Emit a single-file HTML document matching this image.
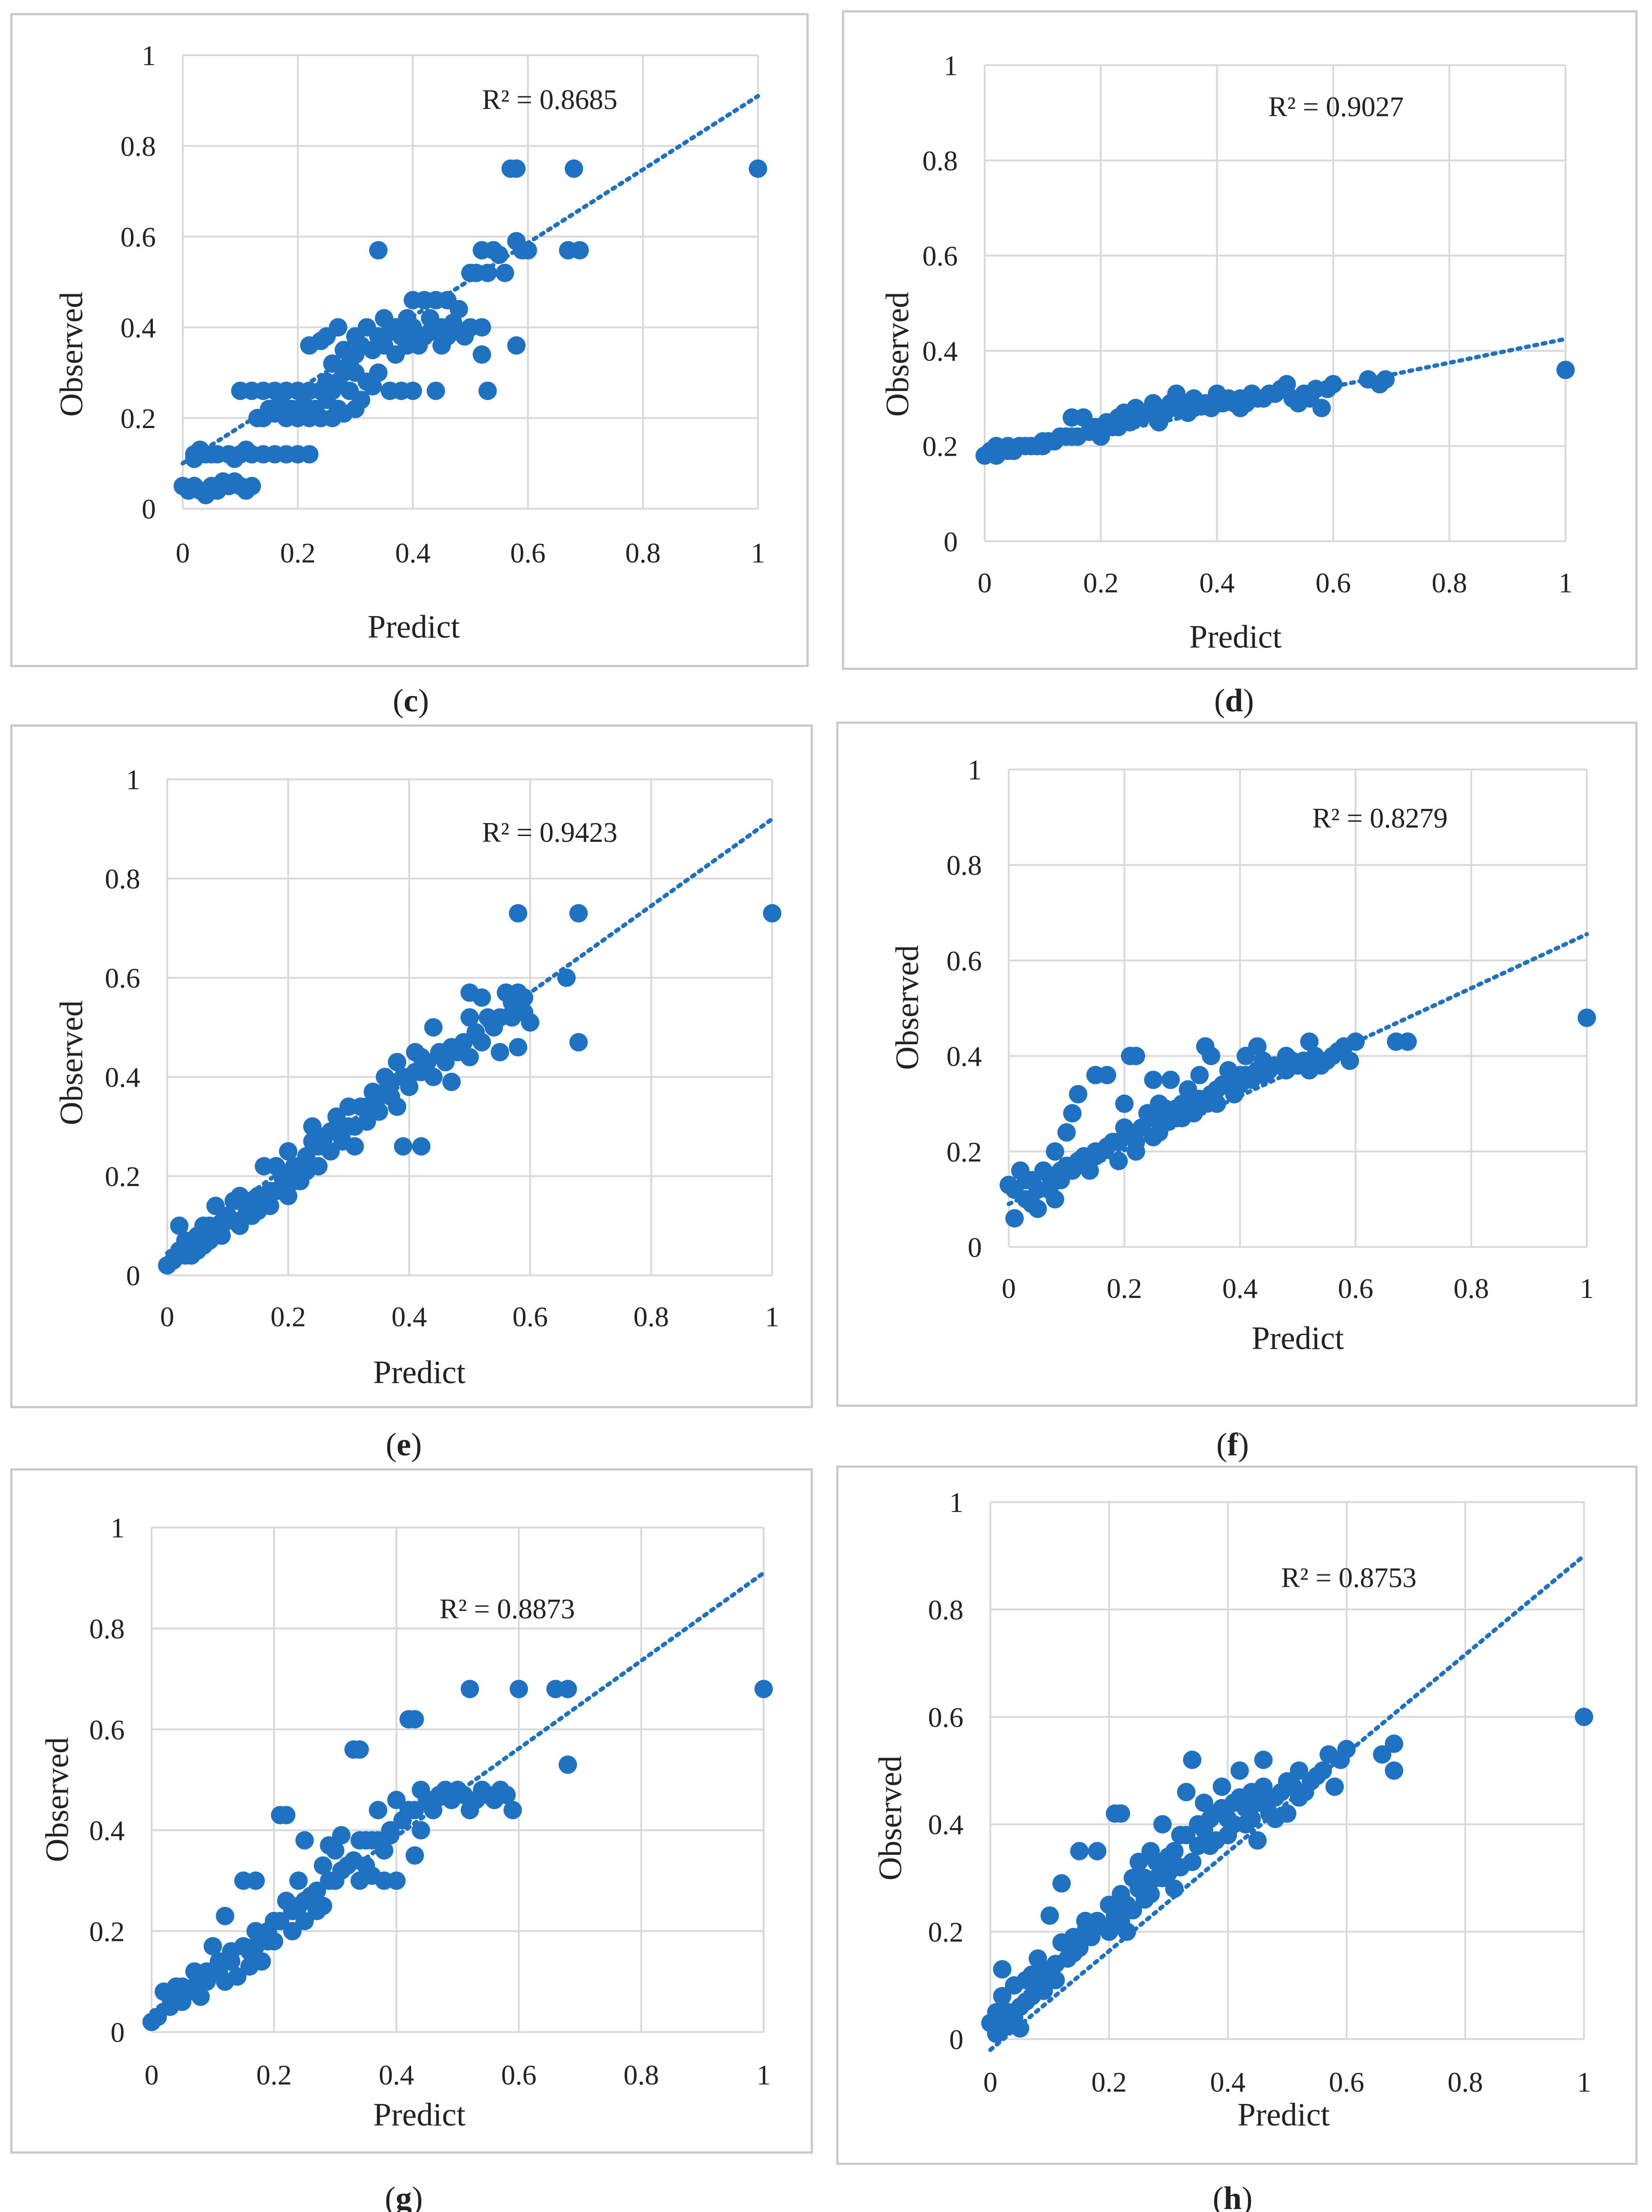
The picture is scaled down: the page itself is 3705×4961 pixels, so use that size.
<!DOCTYPE html>
<html>
<head>
<meta charset="utf-8">
<style>
html,body{margin:0;padding:0;background:#fff;}
svg{display:block;}
text{font-family:"Liberation Serif",serif;fill:#222;}
</style>
</head>
<body>
<svg id="fig" width="3705" height="4961" viewBox="0 0 1166 1561" preserveAspectRatio="none" xmlns="http://www.w3.org/2000/svg">
<rect x="0" y="0" width="1166" height="1561" fill="#fff"/>
</svg>
<script>
const ticks = [0, 0.2, 0.4, 0.6, 0.8, 1];
const tickLabels = ["0", "0.2", "0.4", "0.6", "0.8", "1"];

const ptsC = [[0,0.05],[0.02,0.05],[0.03,0.04],[0.04,0.03],[0.05,0.05],[0.06,0.04],[0.08,0.05],[0.1,0.05],[0.12,0.05],[0.07,0.06],[0.02,0.12],[0.02,0.11],[0.04,0.12],[0.06,0.12],[0.08,0.12],[0.1,0.12],[0.12,0.12],[0.14,0.12],[0.16,0.12],[0.18,0.12],[0.2,0.12],[0.22,0.12],[0.1,0.26],[0.12,0.26],[0.14,0.26],[0.16,0.26],[0.18,0.26],[0.2,0.26],[0.22,0.26],[0.24,0.26],[0.14,0.2],[0.16,0.21],[0.18,0.2],[0.2,0.2],[0.22,0.2],[0.24,0.2],[0.26,0.2],[0.28,0.21],[0.3,0.22],[0.22,0.36],[0.24,0.37],[0.25,0.38],[0.27,0.4],[0.28,0.35],[0.3,0.38],[0.32,0.4],[0.34,0.38],[0.35,0.42],[0.36,0.39],[0.38,0.38],[0.4,0.4],[0.42,0.38],[0.44,0.4],[0.46,0.38],[0.48,0.39],[0.5,0.4],[0.52,0.34],[0.34,0.57],[0.28,0.3],[0.3,0.3],[0.32,0.28],[0.34,0.3],[0.26,0.26],[0.36,0.26],[0.38,0.26],[0.4,0.26],[0.44,0.26],[0.53,0.26],[0.4,0.46],[0.42,0.46],[0.44,0.46],[0.46,0.46],[0.48,0.44],[0.5,0.52],[0.52,0.57],[0.53,0.52],[0.55,0.56],[0.56,0.52],[0.58,0.59],[0.59,0.57],[0.6,0.57],[0.57,0.75],[0.58,0.75],[0.68,0.75],[0.67,0.57],[0.69,0.57],[1.0,0.75],[0.58,0.36],[0.52,0.4],[0.3,0.34],[0.26,0.32],
[0.23,0.22],[0.25,0.24],[0.27,0.28],[0.29,0.32],[0.31,0.36],[0.33,0.35],[0.35,0.36],[0.37,0.4],[0.39,0.36],[0.41,0.38],[0.43,0.39],[0.45,0.4],[0.47,0.41],[0.49,0.38],[0.29,0.26],[0.31,0.24],[0.33,0.27],[0.27,0.22],[0.25,0.28],[0.21,0.23],[0.19,0.22],[0.17,0.24],[0.15,0.22],[0.13,0.2],[0.11,0.13],[0.09,0.11],[0.05,0.12],[0.03,0.13],[0.01,0.04],[0.09,0.06],[0.11,0.04],[0.37,0.34],[0.39,0.42],[0.41,0.36],[0.43,0.42],[0.45,0.36],[0.51,0.52],[0.54,0.57]];
const ptsD = [[0,0.18],[0.01,0.19],[0.02,0.2],[0.03,0.19],[0.04,0.2],[0.05,0.19],[0.06,0.2],[0.08,0.2],[0.1,0.21],[0.12,0.21],[0.14,0.22],[0.15,0.26],[0.16,0.22],[0.17,0.26],[0.18,0.23],[0.2,0.24],[0.22,0.24],[0.23,0.26],[0.25,0.25],[0.26,0.28],[0.27,0.26],[0.28,0.27],[0.29,0.29],[0.3,0.27],[0.31,0.28],[0.32,0.29],[0.33,0.31],[0.34,0.28],[0.35,0.29],[0.36,0.28],[0.38,0.29],[0.4,0.29],[0.42,0.3],[0.44,0.3],[0.46,0.31],[0.48,0.3],[0.5,0.31],[0.51,0.32],[0.52,0.33],[0.53,0.3],[0.54,0.29],[0.55,0.31],[0.57,0.32],[0.58,0.28],[0.6,0.33],[0.66,0.34],[0.68,0.33],[0.69,0.34],[1.0,0.36],[0.3,0.25],[0.36,0.3],[0.24,0.27],[0.4,0.31],[0.44,0.28],[0.2,0.22],[0.1,0.2],
[0.07,0.2],[0.09,0.2],[0.11,0.21],[0.13,0.22],[0.15,0.22],[0.19,0.24],[0.21,0.25],[0.23,0.24],[0.25,0.26],[0.27,0.27],[0.29,0.27],[0.31,0.27],[0.33,0.28],[0.35,0.27],[0.37,0.29],[0.39,0.28],[0.41,0.29],[0.43,0.29],[0.45,0.29],[0.47,0.3],[0.49,0.31],[0.56,0.3],[0.59,0.32],[0.02,0.18],[0.04,0.19]];
const ptsE = [[0,0.02],[0.01,0.03],[0.02,0.05],[0.02,0.1],[0.03,0.07],[0.04,0.04],[0.05,0.08],[0.06,0.06],[0.07,0.1],[0.08,0.14],[0.09,0.08],[0.1,0.12],[0.11,0.15],[0.12,0.1],[0.13,0.14],[0.14,0.12],[0.15,0.16],[0.16,0.22],[0.17,0.14],[0.18,0.17],[0.19,0.2],[0.2,0.16],[0.2,0.25],[0.21,0.22],[0.22,0.19],[0.23,0.24],[0.24,0.3],[0.25,0.22],[0.26,0.28],[0.27,0.25],[0.28,0.32],[0.29,0.27],[0.3,0.3],[0.31,0.26],[0.32,0.34],[0.33,0.31],[0.34,0.37],[0.35,0.33],[0.36,0.4],[0.37,0.36],[0.38,0.43],[0.38,0.34],[0.39,0.26],[0.42,0.26],[0.4,0.38],[0.41,0.45],[0.42,0.41],[0.44,0.5],[0.44,0.4],[0.46,0.43],[0.47,0.39],[0.48,0.45],[0.5,0.52],[0.5,0.44],[0.52,0.56],[0.52,0.47],[0.54,0.5],[0.55,0.45],[0.56,0.57],[0.57,0.52],[0.58,0.46],[0.59,0.53],[0.6,0.51],[0.58,0.73],[0.68,0.73],[0.66,0.6],[0.68,0.47],[1.0,0.73],[0.5,0.57],[0.58,0.57],
[0.03,0.04],[0.05,0.05],[0.07,0.07],[0.09,0.1],[0.11,0.11],[0.13,0.12],[0.15,0.13],[0.17,0.17],[0.19,0.18],[0.21,0.19],[0.23,0.21],[0.25,0.26],[0.27,0.29],[0.29,0.3],[0.31,0.3],[0.33,0.34],[0.35,0.36],[0.37,0.39],[0.39,0.4],[0.41,0.41],[0.43,0.43],[0.45,0.45],[0.47,0.46],[0.49,0.47],[0.51,0.49],[0.53,0.52],[0.55,0.52],[0.57,0.55],[0.59,0.56],[0.06,0.1],[0.12,0.16],[0.18,0.22],[0.24,0.27],[0.3,0.34],[0.36,0.37],[0.42,0.44]];
const ptsF = [[0,0.13],[0.01,0.06],[0.01,0.12],[0.02,0.16],[0.03,0.1],[0.04,0.14],[0.05,0.08],[0.06,0.16],[0.07,0.12],[0.08,0.2],[0.09,0.14],[0.1,0.17],[0.1,0.24],[0.11,0.28],[0.12,0.32],[0.12,0.18],[0.14,0.16],[0.15,0.36],[0.16,0.2],[0.17,0.36],[0.18,0.22],[0.19,0.18],[0.2,0.25],[0.21,0.4],[0.22,0.4],[0.22,0.22],[0.24,0.28],[0.25,0.23],[0.26,0.3],[0.27,0.26],[0.28,0.35],[0.29,0.27],[0.3,0.3],[0.31,0.33],[0.32,0.28],[0.33,0.36],[0.34,0.3],[0.34,0.42],[0.35,0.4],[0.36,0.33],[0.38,0.37],[0.39,0.32],[0.4,0.36],[0.41,0.4],[0.42,0.35],[0.43,0.42],[0.44,0.36],[0.46,0.38],[0.48,0.37],[0.5,0.38],[0.52,0.43],[0.52,0.37],[0.54,0.38],[0.56,0.4],[0.58,0.42],[0.59,0.39],[0.6,0.43],[0.67,0.43],[0.69,0.43],[1.0,0.48],[0.25,0.35],[0.2,0.3],[0.15,0.2],
[0.03,0.14],[0.05,0.12],[0.07,0.15],[0.09,0.16],[0.11,0.16],[0.13,0.19],[0.15,0.19],[0.17,0.21],[0.19,0.22],[0.21,0.24],[0.23,0.25],[0.25,0.27],[0.27,0.29],[0.29,0.29],[0.31,0.3],[0.33,0.31],[0.35,0.32],[0.37,0.34],[0.39,0.35],[0.41,0.36],[0.43,0.37],[0.45,0.37],[0.47,0.38],[0.49,0.39],[0.51,0.39],[0.53,0.4],[0.55,0.39],[0.57,0.41],[0.22,0.2],[0.26,0.24],[0.3,0.27],[0.36,0.3],[0.4,0.34],[0.44,0.39],[0.48,0.4],[0.08,0.1],[0.04,0.09]];
const ptsG = [[0,0.02],[0.01,0.03],[0.02,0.08],[0.03,0.05],[0.04,0.09],[0.05,0.06],[0.06,0.08],[0.07,0.12],[0.08,0.07],[0.09,0.1],[0.1,0.17],[0.11,0.12],[0.12,0.23],[0.13,0.14],[0.14,0.11],[0.15,0.3],[0.16,0.16],[0.17,0.2],[0.17,0.3],[0.18,0.14],[0.19,0.2],[0.2,0.18],[0.21,0.43],[0.22,0.43],[0.22,0.26],[0.23,0.2],[0.24,0.3],[0.25,0.38],[0.25,0.22],[0.26,0.27],[0.27,0.24],[0.28,0.33],[0.29,0.37],[0.3,0.3],[0.31,0.39],[0.32,0.33],[0.33,0.56],[0.34,0.56],[0.34,0.3],[0.35,0.38],[0.36,0.31],[0.37,0.44],[0.38,0.36],[0.39,0.39],[0.4,0.3],[0.4,0.46],[0.42,0.62],[0.43,0.62],[0.42,0.44],[0.43,0.35],[0.44,0.48],[0.46,0.46],[0.48,0.47],[0.5,0.48],[0.52,0.68],[0.52,0.44],[0.54,0.48],[0.56,0.46],[0.58,0.47],[0.59,0.44],[0.6,0.68],[0.66,0.68],[0.68,0.68],[0.68,0.53],[1.0,0.68],[0.28,0.25],[0.36,0.38],[0.46,0.44],
[0.03,0.07],[0.05,0.09],[0.07,0.09],[0.09,0.12],[0.11,0.14],[0.13,0.16],[0.15,0.17],[0.17,0.17],[0.19,0.18],[0.21,0.22],[0.23,0.24],[0.25,0.26],[0.27,0.28],[0.29,0.3],[0.31,0.32],[0.33,0.34],[0.35,0.33],[0.37,0.38],[0.39,0.4],[0.41,0.42],[0.43,0.44],[0.45,0.46],[0.47,0.47],[0.49,0.46],[0.51,0.47],[0.53,0.46],[0.55,0.47],[0.57,0.48],[0.2,0.22],[0.24,0.25],[0.3,0.36],[0.34,0.38],[0.38,0.3],[0.44,0.4],[0.48,0.48],[0.12,0.1],[0.16,0.13]];
const ptsH = [[0,0.03],[0.01,0.01],[0.02,0.08],[0.02,0.13],[0.03,0.05],[0.04,0.1],[0.05,0.02],[0.06,0.07],[0.07,0.12],[0.08,0.15],[0.09,0.09],[0.1,0.23],[0.11,0.14],[0.12,0.29],[0.12,0.18],[0.14,0.16],[0.15,0.35],[0.16,0.2],[0.18,0.35],[0.18,0.22],[0.2,0.25],[0.21,0.42],[0.22,0.42],[0.22,0.27],[0.23,0.2],[0.24,0.3],[0.25,0.33],[0.26,0.26],[0.27,0.35],[0.28,0.3],[0.29,0.4],[0.3,0.34],[0.31,0.28],[0.32,0.38],[0.33,0.46],[0.34,0.52],[0.34,0.33],[0.35,0.4],[0.36,0.44],[0.37,0.36],[0.38,0.42],[0.39,0.47],[0.4,0.38],[0.41,0.44],[0.42,0.5],[0.43,0.4],[0.44,0.46],[0.45,0.37],[0.46,0.52],[0.47,0.42],[0.48,0.45],[0.5,0.48],[0.5,0.42],[0.52,0.5],[0.53,0.46],[0.55,0.49],[0.57,0.53],[0.58,0.47],[0.6,0.54],[0.66,0.53],[0.68,0.55],[0.68,0.5],[1.0,0.6],
[0.01,0.05],[0.03,0.03],[0.05,0.06],[0.06,0.11],[0.07,0.08],[0.08,0.09],[0.09,0.12],[0.1,0.13],[0.11,0.11],[0.13,0.15],[0.14,0.19],[0.15,0.17],[0.16,0.22],[0.17,0.19],[0.19,0.21],[0.2,0.2],[0.21,0.23],[0.22,0.22],[0.23,0.25],[0.24,0.24],[0.25,0.28],[0.26,0.3],[0.27,0.27],[0.28,0.33],[0.29,0.3],[0.3,0.31],[0.31,0.35],[0.32,0.32],[0.33,0.38],[0.35,0.36],[0.36,0.39],[0.37,0.41],[0.38,0.37],[0.39,0.43],[0.4,0.41],[0.41,0.4],[0.42,0.45],[0.43,0.43],[0.44,0.41],[0.45,0.44],[0.46,0.47],[0.47,0.45],[0.48,0.41],[0.49,0.46],[0.51,0.47],[0.52,0.45],[0.54,0.48],[0.56,0.5],[0.59,0.52],[0.04,0.04],[0.02,0.02]];

const r2Labels = ["R² = 0.8685", "R² = 0.9027", "R² = 0.9423", "R² = 0.8279", "R² = 0.8873", "R² = 0.8753"];
const trendC = [0.10, 0.91];
const trendD = [0.175, 0.425];
const trendE = [0.045, 0.92];
const trendF = [0.09, 0.655];
const trendG = [0.04, 0.91];
const trendH = [-0.02, 0.9];

const NS = "http://www.w3.org/2000/svg";
const svg = document.getElementById("fig");
function mk(tag, attrs, parent) {
  const e = document.createElementNS(NS, tag);
  for (const k in attrs) e.setAttribute(k, attrs[k]);
  (parent || svg).appendChild(e);
  return e;
}
const panels = [
  {id:"c", pts:ptsC, tr:trendC, frame:[8,10,562,460], x0:129,x1:535,y0:359,y1:39, r2:[388,77], pred:[292,450], obs:[50,250], xt:397, lab:[290,502]},
  {id:"d", pts:ptsD, tr:trendD, frame:[595,8,560,464], x0:695,x1:1105,y0:382,y1:46, r2:[943,82], pred:[872,457], obs:[633,250], xt:418, lab:[871,502]},
  {id:"e", pts:ptsE, tr:trendE, frame:[8,512,565,481], x0:118,x1:545,y0:900,y1:550, r2:[388,594], pred:[296,976], obs:[50,750], xt:936, lab:[285,1027]},
  {id:"f", pts:ptsF, tr:trendF, frame:[591,510,564,482], x0:712,x1:1120,y0:880,y1:543, r2:[974,584], pred:[916,952], obs:[640,711], xt:916, lab:[870,1027]},
  {id:"g", pts:ptsG, tr:trendG, frame:[8,1037,565,482], x0:107,x1:539,y0:1434,y1:1078, r2:[358,1142], pred:[296,1500], obs:[40,1270], xt:1471, lab:[285,1559]},
  {id:"h", pts:ptsH, tr:trendH, frame:[591,1035,564,492], x0:699,x1:1118,y0:1439,y1:1060, r2:[952,1120], pred:[906,1500], obs:[628,1283], xt:1476, lab:[870,1559]}
];
panels.forEach((p, i) => {
  const g = mk("g", {});
  
  
  const sx = v => p.x0 + v * (p.x1 - p.x0);
  const sy = v => p.y0 + v * (p.y1 - p.y0);
  const fr = mk("rect", {x:p.frame[0], y:p.frame[1], width:p.frame[2], height:p.frame[3], fill:"#fff", stroke:"#c8c8c8", "stroke-width":1.5}, g);
  
  
  ticks.forEach((t, k) => {
    const gv = mk("line", {x1:sx(t), x2:sx(t), y1:sy(0), y2:sy(1), stroke:"#d9d9d9", "stroke-width":1.3}, g);
    
    
    const gh = mk("line", {x1:sx(0), x2:sx(1), y1:sy(t), y2:sy(t), stroke:"#d9d9d9", "stroke-width":1.3}, g);
    
    
    const xt = mk("text", {x:sx(t), y:p.xt, "text-anchor":"middle", "font-size":20}, g);
    xt.textContent = tickLabels[k];
    
    
    const yt = mk("text", {x:sx(0) - 19, y:sy(t) + 7, "text-anchor":"end", "font-size":20}, g);
    yt.textContent = tickLabels[k];
    
    
  });
  const tl = mk("line", {x1:sx(0), y1:sy(p.tr[0]), x2:sx(1), y2:sy(p.tr[1]), stroke:"#1f71c1", "stroke-width":3, "stroke-dasharray":"2 4", "stroke-linecap":"round"}, g);
  
  
  p.pts.forEach(q => {
    const c = mk("circle", {cx:sx(q[0]), cy:sy(q[1]), r:6.5, fill:"#1f71c1"}, g);
    
    
  });
  const r2 = mk("text", {x:p.r2[0], y:p.r2[1], "text-anchor":"middle", "font-size":20}, g);
  r2.textContent = r2Labels[i];
  
  
  const xl = mk("text", {x:p.pred[0], y:p.pred[1], "text-anchor":"middle", "font-size":23}, g);
  xl.textContent = "Predict";
  
  
  const yl = mk("text", {x:p.obs[0], y:p.obs[1], "text-anchor":"middle", "font-size":23, transform:"rotate(-90 " + (p.obs[0]) + " " + p.obs[1] + ") translate(0 8)"}, g);
  yl.textContent = "Observed";
  
  
  const lb = mk("text", {x:p.lab[0], y:p.lab[1], "text-anchor":"middle", "font-size":23}, g);
  lb.innerHTML = '(<tspan font-weight="bold">' + p.id + '</tspan>)';
  
  
});
</script>
</body>
</html>
